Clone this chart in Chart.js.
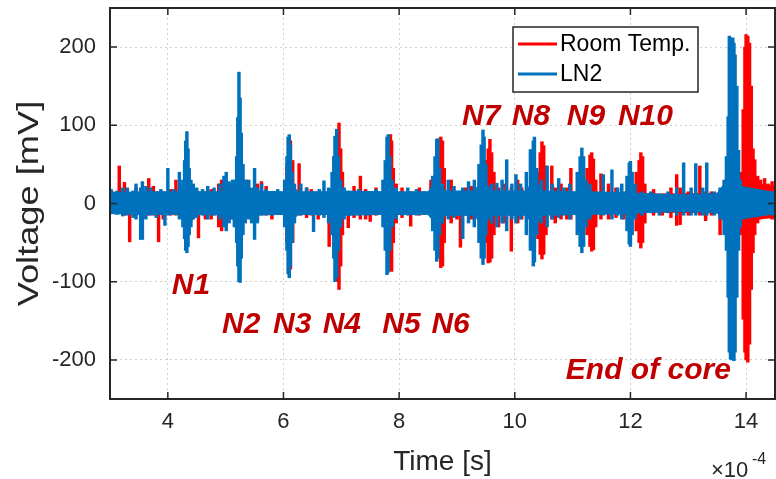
<!DOCTYPE html>
<html>
<head>
<meta charset="utf-8">
<script src="https://cdn.jsdelivr.net/npm/chart.js@4.4.0/dist/chart.umd.min.js"></script>
<style>
html, body { margin: 0; padding: 0; background: #fff; }
</style>
</head>
<body>
<canvas id="voltage-chart" width="776" height="479"></canvas>
<script>
// time axis is in units of 1e-4 s, voltage in mV
var xTicks = [4, 6, 8, 10, 12, 14];
var yTicks = [-200, -100, 0, 100, 200];

// noise floor of each trace: [time, low, high]
var roomFloor = [[3.0,-12,13],[5.25,-13,14],[6.95,-13,14],[9.56,-13,14],[12.45,-11,12],[13.5,-12,13],
	[13.88,-14,15],[14.02,-30,30],[14.15,-20,26],[14.5,-18,22]];
var ln2Floor = [[3.0,-13,14],[3.6,-14,15],[4.2,-14,15],[4.33,-30,32],[4.5,-14,15],[5.1,-15,15],[5.24,-32,35],
	[5.4,-15,16],[6.0,-14,15],[6.1,-28,30],[6.25,-14,15],[6.8,-14,15],[6.9,-30,32],[7.05,-15,16],[7.7,-14,15],
	[7.8,-28,30],[7.95,-14,15],[8.5,-14,15],[8.65,-28,30],[8.8,-15,16],[9.3,-15,16],[9.45,-30,32],[9.6,-15,16],
	[10.2,-15,16],[10.33,-30,32],[10.5,-15,16],[11.05,-14,15],[11.16,-25,27],[11.3,-14,15],[11.9,-13,14],
	[12.0,-22,24],[12.12,-12,13],[12.5,-11,12],[13.0,-10,11],[13.5,-12,13],[13.65,-25,28],[13.9,-20,22],[14.5,-13,14]];

// excursions above the floor: [time, low, high]
var roomPeaks = [
	[3.05,-12,15],[3.16,-10,48],[3.25,-15,27],[3.34,-49,12],[3.45,-15,20],[3.58,-18,14],[3.67,-15,32],[3.75,-15,22],
	[3.84,-49,15],[3.92,-20,15],[4.05,-15,18],[4.14,-15,30],
	[4.28,-25,25],[4.33,-30,30],[4.40,-20,20],[4.53,-44,15],[4.65,-20,15],[4.75,-20,18],[4.88,-30,25],[4.93,-35,30],
	[5.00,-25,20],[5.10,-20,25],
	[5.22,-40,45],[5.29,-20,50],[5.36,-15,30],[5.47,-18,15],[5.55,-20,25],[5.62,-12,28],[5.70,-15,22],[5.80,-20,15],[5.90,-12,15],
	[6.06,-50,50],[6.09,-80,70],[6.12,-84,80],[6.16,-50,55],[6.27,-15,51],
	[6.40,-18,20],[6.48,-15,18],[6.60,-20,15],[6.79,-55,15],
	[6.88,-60,60],[6.93,-100,95],[6.96,-110,103],[6.99,-80,70],[7.02,-40,40],
	[7.12,-31,15],[7.22,-18,22],[7.33,-20,35],[7.42,-20,18],[7.50,-23,15],[7.60,-15,20],
	[7.78,-50,50],[7.82,-75,70],[7.85,-84,88],[7.87,-87,80],[7.90,-50,45],[7.95,-25,25],
	[8.05,-18,20],[8.20,-29,15],[8.35,-15,20],[8.55,-15,30],
	[8.68,-50,50],[8.72,-82,85],[8.75,-80,80],[8.78,-50,45],
	[8.90,-25,30],[9.00,-20,15],[9.06,-56,15],[9.15,-15,20],[9.25,-20,22],
	[9.50,-50,55],[9.54,-76,70],[9.57,-75,82],[9.60,-70,65],[9.64,-40,40],
	[9.72,-30,20],[9.80,-25,25],[9.94,-61,20],[10.05,-25,30],[10.12,-20,20],
	[10.40,-45,40],[10.44,-65,65],[10.47,-71,79],[10.50,-65,74],[10.54,-40,48],
	[10.64,-20,48],[10.70,-25,20],[10.80,-20,25],[10.90,-20,20],[10.97,-20,45],
	[11.25,-40,45],[11.30,-55,62],[11.33,-61,65],[11.36,-59,57],[11.40,-30,30],
	[11.49,-20,38],[11.62,-20,25],[11.75,-18,20],[11.88,-20,15],
	[12.10,-35,40],[12.15,-50,55],[12.18,-57,65],[12.21,-50,60],[12.25,-25,25],
	[12.40,-15,18],[12.55,-15,12],[12.70,-18,20],[12.80,-28,37],[12.86,-27,20],[13.00,-15,15],[13.20,-15,48],
	[13.30,-22,15],[13.40,-15,15],[13.55,-40,15],[13.65,-20,20],
	[13.92,-40,40],[13.95,-148,120],[13.98,-190,200],[14.00,-200,216],[14.03,-203,214],[14.06,-180,205],
	[14.09,-110,150],[14.12,-63,70],[14.15,-40,56],
	[14.20,-25,35],[14.25,-20,30],[14.32,-15,32],[14.38,-18,25],[14.45,-20,28]
];
var ln2Peaks = [
	[3.02,-10,18],[3.12,-14,16],[3.22,-16,20],[3.30,-15,20],[3.40,-18,16],[3.45,-20,25],[3.53,-46,20],[3.56,-46,28],
	[3.62,-20,22],[3.70,-15,20],[3.80,-18,14],[3.88,-14,18],[3.95,-28,10],[4.00,-15,45],[4.10,-12,18],[4.20,-20,40],
	[4.26,-30,30],[4.29,-45,55],[4.31,-60,80],[4.33,-63,92],[4.35,-55,70],[4.37,-40,45],[4.40,-30,30],[4.44,-20,25],
	[4.50,-18,20],[4.60,-15,18],[4.69,-20,22],[4.80,-15,20],[4.90,-20,25],[4.97,-30,35],[5.01,-35,40],[5.06,-25,28],[5.12,-20,30],
	[5.15,-30,30],[5.19,-50,60],[5.21,-80,110],[5.23,-100,168],[5.25,-101,135],[5.27,-70,90],[5.30,-40,50],[5.34,-25,30],
	[5.40,-20,30],[5.45,-25,20],[5.50,-46,45],[5.55,-25,20],[5.62,-15,25],[5.70,-12,18],[5.80,-15,15],[5.90,-14,18],
	[6.02,-30,30],[6.06,-60,60],[6.08,-90,85],[6.10,-95,88],[6.12,-80,75],[6.15,-50,40],[6.19,-25,25],
	[6.30,-15,25],[6.40,-12,20],[6.52,-36,15],[6.62,-15,18],[6.70,-18,29],[6.78,-25,20],
	[6.84,-40,40],[6.87,-70,60],[6.89,-100,86],[6.92,-95,95],[6.95,-60,60],[6.99,-30,30],
	[7.05,-20,20],[7.15,-15,15],[7.30,-15,18],[7.45,-15,15],[7.60,-12,18],
	[7.72,-30,30],[7.76,-60,55],[7.79,-91,85],[7.81,-88,88],[7.84,-60,60],[7.88,-30,30],
	[7.95,-20,20],[8.05,-15,15],[8.15,-15,20],[8.30,-15,18],[8.42,-12,15],
	[8.58,-35,35],[8.62,-60,60],[8.65,-74,82],[8.67,-70,83],[8.70,-40,45],[8.75,-25,25],
	[8.85,-20,30],[8.95,-18,22],[9.10,-45,20],[9.20,-25,28],[9.30,-30,30],
	[9.38,-50,50],[9.42,-70,75],[9.45,-78,94],[9.47,-70,85],[9.50,-40,50],
	[9.60,-25,25],[9.69,-30,26],[9.78,-25,30],[9.86,-35,56],[9.95,-20,25],[10.02,-25,37],[10.10,-20,25],
	[10.20,-40,40],[10.27,-60,69],[10.32,-80,80],[10.34,-75,85],[10.38,-40,45],
	[10.46,-25,30],[10.56,-30,48],[10.65,-20,25],[10.76,-18,32],[10.85,-15,20],[10.95,-20,25],
	[11.08,-40,40],[11.13,-55,60],[11.16,-63,71],[11.19,-55,60],[11.23,-30,30],
	[11.30,-20,25],[11.53,-15,37],[11.68,-20,43],[11.78,-15,20],[11.85,-20,25],
	[11.94,-35,35],[11.98,-52,52],[12.00,-55,54],[12.03,-40,40],[12.08,-20,25],
	[12.20,-15,15],[12.35,-12,15],[12.50,-15,12],[12.65,-12,15],[12.80,-15,20],[12.92,-15,52],[13.05,-15,20],
	[13.13,-15,51],[13.25,-15,20],[13.32,-15,52],[13.45,-15,15],[13.55,-20,20],
	[13.62,-40,30],[13.66,-60,60],[13.69,-120,111],[13.71,-190,214],[13.73,-199,212],[13.75,-200,210],
	[13.77,-195,212],[13.79,-201,205],[13.81,-190,190],[13.84,-120,150],[13.87,-60,68],[13.90,-30,30],
	[13.95,-20,20],[14.10,-15,15],[14.30,-12,15],[14.45,-15,15]
];

// annotation text and where it sits (time, voltage of baseline)
var noteText = ['N1', 'N2', 'N3', 'N4', 'N5', 'N6', 'N7', 'N8', 'N9', 'N10', 'End of core'];
var noteTime = [4.40, 5.27, 6.15, 7.01, 8.04, 8.89, 9.42, 10.28, 11.23, 12.26, 12.31];
var noteVolt = [-116, -165, -165, -165, -165, -165, 100, 100, 100, 100, -225];

var RED = '#ff0000';
var BLUE = '#0072bd';
var INK = '#262626';
var FONT = '"Liberation Sans", Arial, Helvetica, sans-serif';

function edge(rows, col){
	return rows.map(function(r){ return {x: r[0], y: r[col]}; });
}
function bars(rows){
	return rows.map(function(r){ return {x: r[0], y: [r[1], r[2]]}; });
}
function floorSet(rows, col, color, order, fill){
	return {
		type: 'line',
		data: edge(rows, col),
		borderColor: color,
		backgroundColor: color,
		borderWidth: 1,
		pointRadius: 0,
		tension: 0,
		fill: fill,
		order: order
	};
}
function peakSet(label, rows, color, order){
	return {
		type: 'bar',
		label: label,
		data: bars(rows),
		backgroundColor: color,
		borderWidth: 0,
		barThickness: 2.8,
		grouped: false,
		order: order
	};
}

var axesFrame = {
	id: 'axesFrame',
	afterDatasetsDraw: function(chart){
		var ctx = chart.ctx, a = chart.chartArea;
		var sx = chart.scales.x, sy = chart.scales.y;
		ctx.save();
		ctx.strokeStyle = INK;
		ctx.lineWidth = 1.5;
		ctx.beginPath();
		xTicks.forEach(function(v){
			var px = sx.getPixelForValue(v);
			ctx.moveTo(px, a.bottom); ctx.lineTo(px, a.bottom - 7);
			ctx.moveTo(px, a.top); ctx.lineTo(px, a.top + 7);
		});
		yTicks.forEach(function(v){
			var py = sy.getPixelForValue(v);
			ctx.moveTo(a.left, py); ctx.lineTo(a.left + 7, py);
			ctx.moveTo(a.right, py); ctx.lineTo(a.right - 7, py);
		});
		ctx.stroke();
		ctx.lineWidth = 2;
		ctx.strokeRect(a.left, a.top, a.right - a.left, a.bottom - a.top);
		ctx.restore();
	},
	afterDraw: function(chart){
		var ctx = chart.ctx, a = chart.chartArea;
		var sx = chart.scales.x, sy = chart.scales.y;
		ctx.save();
		// event labels
		ctx.fillStyle = '#c00000';
		ctx.font = 'italic bold 30px ' + FONT;
		ctx.textAlign = 'center';
		ctx.textBaseline = 'alphabetic';
		noteText.forEach(function(t, i){
			ctx.fillText(t, sx.getPixelForValue(noteTime[i]), sy.getPixelForValue(noteVolt[i]));
		});
		// legend box
		var lx = 513, ly = 27, lw = 185, lh = 65;
		ctx.fillStyle = '#fff';
		ctx.fillRect(lx, ly, lw, lh);
		ctx.strokeStyle = INK;
		ctx.lineWidth = 1.5;
		ctx.strokeRect(lx, ly, lw, lh);
		var rows = [['Room Temp.', RED, ly + 17], ['LN2', BLUE, ly + 47]];
		ctx.font = '23px ' + FONT;
		ctx.textAlign = 'left';
		ctx.textBaseline = 'middle';
		rows.forEach(function(r){
			ctx.strokeStyle = r[1];
			ctx.lineWidth = 3;
			ctx.beginPath();
			ctx.moveTo(lx + 5, r[2]);
			ctx.lineTo(lx + 44, r[2]);
			ctx.stroke();
			ctx.fillStyle = '#000';
			ctx.fillText(r[0], lx + 47, r[2] + 1);
		});
		// axis titles
		ctx.fillStyle = INK;
		ctx.textAlign = 'center';
		ctx.font = '28px ' + FONT;
		ctx.fillText('Time [s]', (a.left + a.right) / 2, 462);
		ctx.save();
		ctx.translate(30, (a.top + a.bottom) / 2);
		ctx.rotate(-Math.PI / 2);
		ctx.scale(1.25, 1);
		ctx.font = '29px ' + FONT;
		ctx.fillText('Voltage [mV]', 0, 0);
		ctx.restore();
		// exponent of the time axis
		ctx.textAlign = 'left';
		ctx.textBaseline = 'alphabetic';
		ctx.font = '22px ' + FONT;
		ctx.fillText('\u00d710', 711, 477);
		ctx.font = '16px ' + FONT;
		ctx.fillText('-4', 752, 464);
		ctx.restore();
	}
};

var ctx = document.getElementById('voltage-chart');
var chart = new Chart(ctx, {
	type: 'bar',
	data: {
		datasets: [
			floorSet(roomFloor, 2, RED, 4, '+1'),
			floorSet(roomFloor, 1, RED, 4, false),
			peakSet('Room Temp.', roomPeaks, RED, 3),
			floorSet(ln2Floor, 2, BLUE, 2, '+1'),
			floorSet(ln2Floor, 1, BLUE, 2, false),
			peakSet('LN2', ln2Peaks, BLUE, 1)
		]
	},
	options: {
		responsive: false,
		animation: false,
		devicePixelRatio: 1,
		layout: { padding: { top: 8, right: 1, left: 0, bottom: 0 } },
		plugins: {
			legend: { display: false },
			tooltip: { enabled: false }
		},
		scales: {
			x: {
				type: 'linear',
				min: 3,
				max: 14.5,
				offset: false,
				afterBuildTicks: function(s){ s.ticks = xTicks.map(function(v){ return {value: v}; }); },
				afterFit: function(s){ s.height = 80; s.paddingLeft = 0; s.paddingRight = 0; },
				grid: { color: '#d0d0d0', drawTicks: false, offset: false },
				border: { display: false, dash: [2, 3] },
				ticks: { color: INK, font: { family: FONT, size: 22 }, padding: 10, maxRotation: 0 }
			},
			y: {
				min: -250,
				max: 250,
				afterBuildTicks: function(s){ s.ticks = yTicks.map(function(v){ return {value: v}; }); },
				afterFit: function(s){ s.width = 110; s.paddingTop = 0; s.paddingBottom = 0; },
				grid: { color: '#d0d0d0', drawTicks: false },
				border: { display: false, dash: [2, 3] },
				ticks: { color: INK, font: { family: FONT, size: 22 }, padding: 14 }
			}
		}
	},
	plugins: [axesFrame]
});
</script>
</body>
</html>
